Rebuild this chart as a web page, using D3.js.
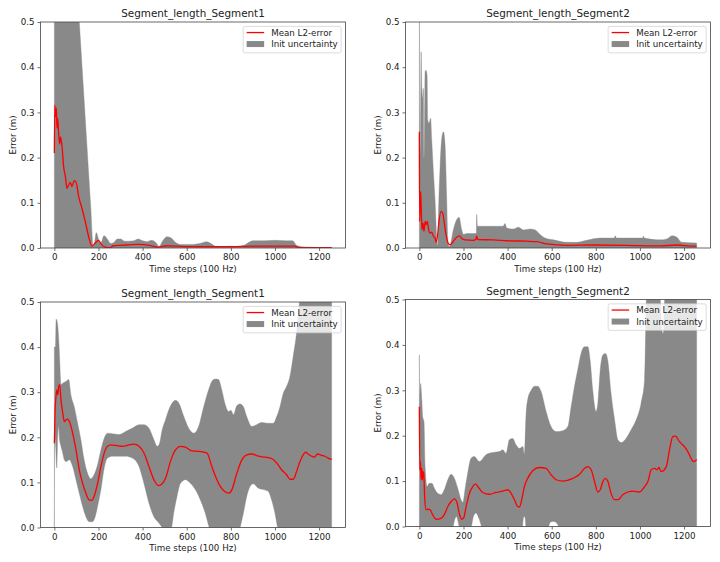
<!DOCTYPE html>
<html>
<head>
<meta charset="utf-8">
<script src="https://cdn.jsdelivr.net/npm/d3@7"></script>
<style>
  html, body { margin: 0; padding: 0; background: #fff; }
  svg { display: block; }
  text { font-family: "DejaVu Sans", sans-serif; fill: #222; }
</style>
</head>
<body>
<script>
// ---------------- DATA ----------------
const titles = ["Segment_length_Segment1", "Segment_length_Segment2", "Segment_length_Segment1", "Segment_length_Segment2"];
const xLabel = "Time steps (100 Hz)";
const yLabel = "Error (m)";
const legendLabels = ["Mean L2-error", "Init uncertainty"];
const xTicks = [0, 200, 400, 600, 800, 1000, 1200];
const yTicks = [0.0, 0.1, 0.2, 0.3, 0.4, 0.5];

// Panel 1 (top-left)
const p1Mean = [[0,0.21],[2,0.316],[5,0.29],[9,0.31],[12,0.265],[15,0.287],[20,0.25],[24,0.23],[28,0.246],[35,0.224],[42,0.18],[50,0.158],[57,0.132],[65,0.14],[72,0.145],[80,0.136],[90,0.149],[99,0.145],[110,0.114],[125,0.088],[140,0.059],[155,0.026],[170,0.004],[185,0.011],[200,0.017],[215,0.007],[230,0.002],[252,0.0005],[267,0.005],[300,0.006],[340,0.007],[380,0.008],[430,0.006],[470,0.002],[510,0.005],[560,0.004],[600,0.003],[700,0.003],[800,0.003],[900,0.004],[1000,0.004],[1090,0.004],[1110,0.001],[1200,0.001],[1257,0.001]];
const p1Upper = [[0,0.6],[105,0.56],[113,0.5],[130,0.366],[150,0.208],[165,0.09],[176,0.004],[182,0.01],[190,0.034],[200,0.02],[210,0.01],[225,0.027],[240,0.02],[255,0.01],[270,0.012],[285,0.02],[300,0.02],[320,0.015],[340,0.015],[360,0.016],[380,0.02],[400,0.016],[420,0.014],[440,0.017],[460,0.012],[475,0.003],[490,0.015],[510,0.025],[530,0.022],[550,0.012],[570,0.008],[600,0.008],[630,0.008],[660,0.01],[690,0.014],[710,0.01],[730,0.004],[760,0.003],[800,0.004],[830,0.003],[860,0.006],[880,0.012],[900,0.016],[950,0.016],[1000,0.017],[1050,0.016],[1080,0.016],[1100,0.005],[1120,0.003],[1150,0.002],[1200,0.001],[1257,0.001]];
const p1Lower = [[0,-0.1],[200,-0.03],[1257,-0.01]];

// Panel 2 (top-right)
const p2Mean = [[0,0.257],[1,0.059],[6,0.125],[9,0.077],[12,0.04],[17,0.055],[21,0.037],[26,0.059],[30,0.051],[36,0.059],[42,0.04],[48,0.033],[56,0.035],[64,0.026],[71,0.022],[76,0.0125],[82,0.026],[89,0.059],[98,0.081],[106,0.077],[113,0.055],[121,0.029],[130,0.011],[139,0.007],[154,0.015],[169,0.024],[181,0.027],[192,0.021],[207,0.018],[245,0.017],[257,0.02],[260,0.026],[265,0.0185],[336,0.018],[396,0.016],[487,0.015],[532,0.014],[578,0.009],[668,0.006],[789,0.0066],[940,0.006],[1092,0.0045],[1167,0.0066],[1243,0.004],[1257,0.004]];
const p2Upper = [[0,0.6],[2,0.3],[5,0.2],[8,0.434],[11,0.353],[14,0.33],[18,0.353],[22,0.2],[26,0.39],[30,0.393],[35,0.382],[38,0.283],[44,0.276],[51,0.287],[56,0.24],[64,0.165],[71,0.107],[79,0.018],[83,0.004],[88,0.1],[94,0.18],[101,0.24],[109,0.257],[116,0.232],[124,0.107],[129,0.018],[135,0.003],[139,0.005],[154,0.04],[169,0.0625],[180,0.068],[192,0.04],[200,0.03],[215,0.032],[258,0.032],[260,0.074],[263,0.048],[380,0.048],[388,0.054],[396,0.044],[426,0.042],[449,0.046],[472,0.04],[502,0.042],[525,0.04],[547,0.03],[570,0.022],[608,0.018],[668,0.0125],[714,0.0125],[759,0.017],[820,0.022],[884,0.022],[888,0.027],[893,0.022],[1012,0.022],[1016,0.026],[1020,0.022],[1092,0.018],[1122,0.02],[1145,0.027],[1167,0.024],[1190,0.0125],[1257,0.011]];
const p2Lower = [[0,-0.1],[200,-0.03],[1257,-0.01]];

// Panel 3 (bottom-left)
const p3Mean = [[0,0.187],[3,0.254],[8,0.294],[12,0.305],[15,0.294],[20,0.313],[24,0.317],[30,0.283],[38,0.254],[45,0.235],[53,0.239],[60,0.24],[68,0.235],[83,0.209],[98,0.172],[113,0.128],[128,0.098],[143,0.076],[158,0.061],[170,0.06],[180,0.069],[196,0.098],[211,0.135],[226,0.165],[241,0.18],[256,0.183],[278,0.182],[308,0.18],[338,0.183],[361,0.185],[384,0.18],[406,0.165],[429,0.135],[451,0.106],[471,0.093],[489,0.097],[504,0.109],[526,0.146],[549,0.172],[572,0.18],[594,0.178],[624,0.17],[654,0.169],[692,0.165],[714,0.135],[737,0.106],[752,0.091],[767,0.082],[790,0.076],[805,0.084],[827,0.12],[850,0.15],[872,0.161],[895,0.163],[925,0.158],[955,0.156],[985,0.153],[1008,0.143],[1030,0.128],[1053,0.117],[1068,0.107],[1083,0.107],[1098,0.124],[1113,0.146],[1128,0.161],[1139,0.167],[1150,0.163],[1166,0.158],[1178,0.156],[1193,0.163],[1211,0.16],[1226,0.158],[1241,0.154],[1257,0.151]];
const p3Upper = [[0,0.40],[5,0.40],[8,0.462],[14,0.453],[20,0.416],[24,0.372],[30,0.317],[38,0.32],[53,0.324],[65,0.328],[75,0.294],[90,0.268],[105,0.232],[120,0.195],[135,0.15],[150,0.121],[165,0.108],[180,0.117],[196,0.139],[211,0.172],[226,0.198],[241,0.209],[263,0.208],[293,0.206],[323,0.213],[353,0.22],[384,0.228],[406,0.228],[429,0.22],[451,0.195],[466,0.18],[477,0.187],[489,0.217],[504,0.239],[519,0.261],[534,0.276],[549,0.282],[564,0.276],[587,0.246],[609,0.22],[632,0.209],[654,0.224],[677,0.268],[699,0.305],[714,0.324],[729,0.329],[744,0.328],[759,0.305],[775,0.272],[790,0.257],[800,0.26],[812,0.25],[827,0.27],[842,0.274],[857,0.268],[872,0.246],[895,0.224],[917,0.228],[940,0.233],[970,0.231],[993,0.231],[1008,0.246],[1023,0.268],[1038,0.298],[1053,0.313],[1068,0.335],[1083,0.38],[1098,0.431],[1113,0.51],[1130,0.6],[1257,0.6]];
const p3Lower = [[0,-0.01],[2,0.2],[6,0.18],[11,0.132],[15,0.2],[20,0.224],[23,0.198],[30,0.18],[38,0.165],[45,0.15],[53,0.146],[68,0.15],[83,0.135],[98,0.106],[113,0.076],[128,0.047],[143,0.024],[158,0.013],[173,0.013],[185,0.024],[196,0.047],[211,0.084],[226,0.132],[241,0.154],[263,0.158],[323,0.158],[353,0.154],[384,0.135],[406,0.098],[429,0.054],[451,0.024],[474,0.01],[489,0],[511,-0.012],[531,0],[541,0.032],[556,0.069],[572,0.098],[594,0.106],[617,0.098],[639,0.084],[662,0.061],[684,0.032],[702,0],[740,-0.03],[800,-0.04],[842,0],[857,0.032],[872,0.069],[887,0.091],[902,0.097],[925,0.087],[948,0.084],[970,0.08],[985,0.061],[1000,0.032],[1012,0],[1050,-0.05],[1257,-0.1]];

// Panel 4 (bottom-right)
const p4Mean = [[0,0.264],[2,0.125],[5,0.143],[8,0.103],[11,0.128],[14,0.103],[17,0.121],[20,0.117],[24,0.066],[30,0.037],[38,0.038],[48,0.037],[60,0.026],[76,0.016],[98,0.018],[113,0.026],[129,0.044],[144,0.055],[159,0.061],[169,0.055],[181,0.029],[192,0.016],[200,0.018],[212,0.044],[227,0.073],[242,0.088],[254,0.094],[265,0.088],[287,0.075],[318,0.071],[348,0.075],[378,0.078],[401,0.081],[416,0.073],[431,0.059],[446,0.044],[454,0.043],[464,0.059],[476,0.088],[491,0.106],[514,0.123],[544,0.13],[575,0.128],[597,0.114],[620,0.103],[650,0.1],[696,0.106],[726,0.115],[748,0.128],[764,0.132],[779,0.125],[794,0.099],[809,0.076],[820,0.081],[832,0.099],[844,0.106],[855,0.099],[869,0.073],[885,0.059],[900,0.059],[922,0.07],[945,0.076],[968,0.078],[998,0.076],[1021,0.088],[1036,0.099],[1051,0.125],[1066,0.128],[1077,0.125],[1086,0.13],[1096,0.121],[1111,0.125],[1122,0.136],[1134,0.169],[1149,0.198],[1161,0.199],[1179,0.187],[1202,0.176],[1217,0.165],[1232,0.15],[1243,0.143],[1257,0.147]];
const p4Upper = [[0,0.378],[2,0.286],[6,0.315],[11,0.279],[15,0.242],[21,0.231],[26,0.132],[35,0.088],[45,0.095],[57,0.095],[68,0.084],[83,0.073],[98,0.07],[113,0.081],[129,0.103],[144,0.115],[159,0.106],[174,0.084],[189,0.059],[197,0.053],[209,0.088],[219,0.117],[234,0.15],[249,0.154],[272,0.143],[302,0.158],[333,0.163],[363,0.165],[378,0.169],[393,0.161],[408,0.191],[423,0.194],[438,0.18],[454,0.172],[469,0.176],[476,0.158],[484,0.249],[491,0.279],[507,0.3],[522,0.309],[537,0.309],[552,0.297],[575,0.253],[597,0.22],[620,0.209],[650,0.211],[673,0.22],[688,0.264],[703,0.308],[718,0.345],[733,0.381],[748,0.396],[764,0.396],[774,0.367],[786,0.3],[801,0.253],[809,0.271],[820,0.345],[832,0.378],[844,0.381],[855,0.363],[869,0.293],[885,0.235],[900,0.191],[915,0.185],[937,0.194],[960,0.213],[983,0.235],[1005,0.271],[1021,0.323],[1031,0.52],[1080,0.55],[1090,0.52],[1100,0.43],[1106,0.425],[1112,0.5],[1120,0.6],[1257,0.6]];
const p4Lower = [[0,-0.05],[150,-0.005],[160,0.015],[168,0.022],[176,0.01],[183,-0.005],[232,-0.005],[245,0.022],[257,0.03],[270,0.018],[288,-0.005],[466,-0.005],[472,0.02],[478,0.022],[485,-0.005],[580,-0.005],[595,0.01],[610,0.011],[625,0.006],[637,-0.005],[700,-0.05],[1257,-0.1]];

// ---------------- DRAW ----------------
const svg = d3.select("body").append("svg").attr("width", 720).attr("height", 562);

const bandColor = "#898989";
const lineColor = "#ff0000";
const fs = 8.7;

const layouts = [
  { left: 40.5, right: 345.5, top: 22, bottom: 248 },
  { left: 405.5, right: 710.5, top: 22, bottom: 248 },
  { left: 40.5, right: 345.5, top: 302, bottom: 527.5 },
  { left: 405.5, right: 710.5, top: 299.5, bottom: 526.5 }
];
const series = [
  [p1Mean, p1Upper, p1Lower],
  [p2Mean, p2Upper, p2Lower],
  [p3Mean, p3Upper, p3Lower],
  [p4Mean, p4Upper, p4Lower]
];

layouts.forEach((L, i) => {
  const [mean, upper, lower] = series[i];
  const x = d3.scaleLinear().domain([-62.85, 1319.85]).range([L.left, L.right]);
  const y = d3.scaleLinear().domain([0, 0.5]).range([L.bottom, L.top]);
  const g = svg.append("g");

  const clipId = "clip" + i;
  svg.append("clipPath").attr("id", clipId)
    .append("rect").attr("x", L.left).attr("y", L.top)
    .attr("width", L.right - L.left).attr("height", L.bottom - L.top);

  const line = d3.line().x(d => x(d[0])).y(d => y(d[1])).curve(d3.curveMonotoneX);
  const a = line(upper);
  const b = line(lower.slice().reverse());
  const bandD = a + "L" + b.slice(1) + "Z";

  const plot = g.append("g").attr("clip-path", `url(#${clipId})`);
  plot.append("path").attr("d", bandD).attr("fill", bandColor).attr("stroke", bandColor).attr("stroke-width", 0.4);
  plot.append("path").attr("d", line(mean)).attr("fill", "none")
    .attr("stroke", lineColor).attr("stroke-width", 1.3).attr("stroke-linejoin", "round");

  // axes
  const xAxis = d3.axisBottom(x).tickValues(xTicks).tickSize(3).tickPadding(3).tickFormat(d3.format("d"));
  const yAxis = d3.axisLeft(y).tickValues(yTicks).tickSize(3).tickPadding(3).tickFormat(d3.format(".1f"));
  const gx = g.append("g").attr("transform", `translate(0,${L.bottom})`).call(xAxis);
  const gy = g.append("g").attr("transform", `translate(${L.left},0)`).call(yAxis);
  [gx, gy].forEach(ax => {
    ax.select(".domain").remove();
    ax.selectAll(".tick line").attr("stroke", "#333").attr("stroke-width", 0.7);
    ax.selectAll(".tick text").attr("font-family", "DejaVu Sans").attr("font-size", fs).attr("fill", "#222");
  });

  // spines
  g.append("rect").attr("x", L.left).attr("y", L.top)
    .attr("width", L.right - L.left).attr("height", L.bottom - L.top)
    .attr("fill", "none").attr("stroke", "#444").attr("stroke-width", 0.8);

  // title
  g.append("text").attr("x", (L.left + L.right) / 2).attr("y", L.top - 5)
    .attr("text-anchor", "middle").attr("font-size", 10.4).text(titles[i]);
  // x label
  g.append("text").attr("x", (L.left + L.right) / 2).attr("y", L.bottom + 23.5)
    .attr("text-anchor", "middle").attr("font-size", fs).text(xLabel);
  // y label
  g.append("text").attr("transform", `translate(${L.left - 25},${(L.top + L.bottom) / 2}) rotate(-90)`)
    .attr("text-anchor", "middle").attr("font-size", fs).text(yLabel);

  // legend
  const boxW = 98, boxH = 26.5;
  const bx = L.right - 4.35 - boxW, by = L.top + 4.35;
  const lg = g.append("g");
  lg.append("rect").attr("x", bx).attr("y", by).attr("width", boxW).attr("height", boxH)
    .attr("rx", 2).attr("fill", "#fff").attr("fill-opacity", 0.8)
    .attr("stroke", "#ccc").attr("stroke-width", 0.7);
  const r1 = by + 6.2, r2 = by + 17.7;
  lg.append("line").attr("x1", bx + 3.5).attr("x2", bx + 21).attr("y1", r1).attr("y2", r1)
    .attr("stroke", lineColor).attr("stroke-width", 1.3);
  lg.append("rect").attr("x", bx + 3.5).attr("y", r2 - 3).attr("width", 17.5).attr("height", 6)
    .attr("fill", bandColor);
  lg.append("text").attr("x", bx + 28).attr("y", r1 + 3.2).attr("font-size", fs).text(legendLabels[0]);
  lg.append("text").attr("x", bx + 28).attr("y", r2 + 3.2).attr("font-size", fs).text(legendLabels[1]);
});
</script>
</body>
</html>
